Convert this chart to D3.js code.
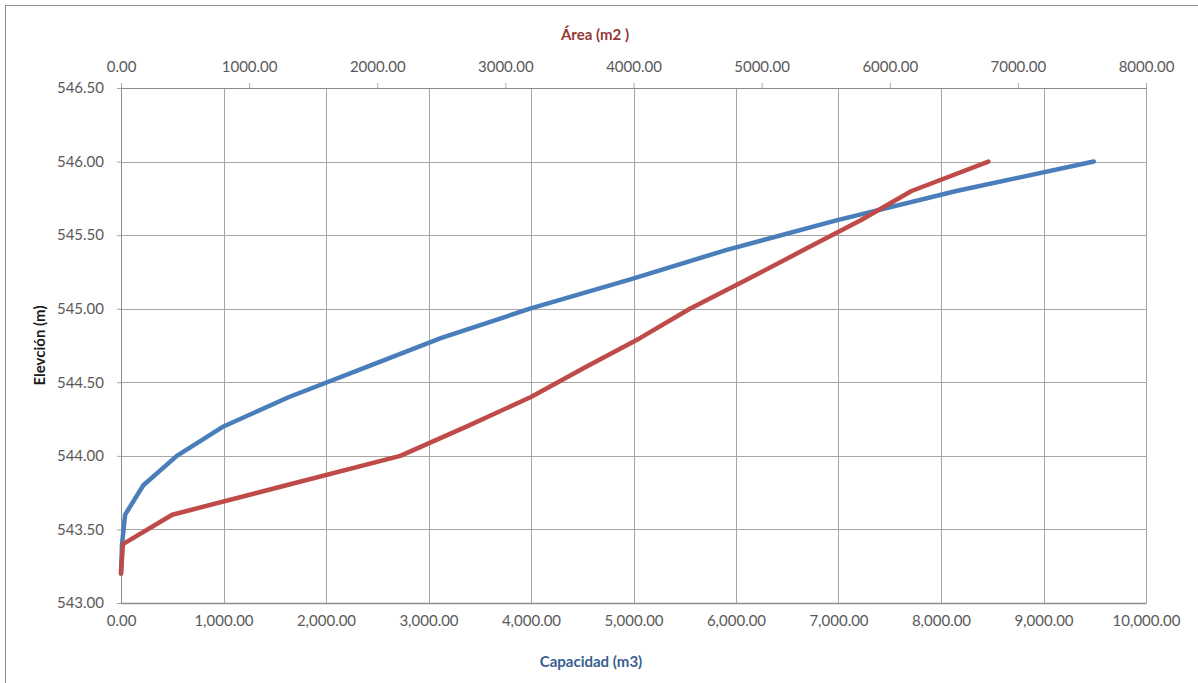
<!DOCTYPE html>
<html>
<head>
<meta charset="utf-8">
<script src="https://cdn.jsdelivr.net/npm/d3@7"></script>
<style>
  html, body { margin: 0; padding: 0; background: #fff; }
  svg { display: block; }
  .tick text { font-family: Lato, "Open Sans", sans-serif; fill: #595959; }
</style>
</head>
<body>
<svg id="chart" width="1198" height="683"></svg>
<script>
// Elevation levels of the reservoir (m)
const elevations = [543.20, 543.40, 543.60, 543.80, 544.00, 544.20, 544.40, 544.60,
                    544.80, 545.00, 545.20, 545.40, 545.60, 545.80, 546.00];
// Stored volume at each level (m3)
const capacidad = [0, 10, 40, 218, 545, 1000, 1640, 2380,
                   3120, 3990, 4970, 5910, 6980, 8150, 9490];
// Flooded surface at each level (m2)
const area = [0, 15, 400, 1290, 2180, 2700, 3200, 3620,
              4050, 4440, 4890, 5330, 5770, 6170, 6770];

const elevTicks = [543.0, 543.5, 544.0, 544.5, 545.0, 545.5, 546.0, 546.5];
const capTicks = [0, 1000, 2000, 3000, 4000, 5000, 6000, 7000, 8000, 9000, 10000];
const areaTicks = [0, 1000, 2000, 3000, 4000, 5000, 6000, 7000, 8000];

const svg = d3.select("#chart");
const W = 1198, H = 683;
const plot = { left: 121, right: 1146, top: 88, bottom: 603 };

// outer chart frame
svg.append("rect")
  .attr("x", 5.5).attr("y", 5.5)
  .attr("width", W + 10).attr("height", H + 10)
  .attr("fill", "#fff").attr("stroke", "#8c8c8c").attr("stroke-width", 1);

const y = d3.scaleLinear().domain([543, 546.5]).range([plot.bottom, plot.top]);
const xCap = d3.scaleLinear().domain([0, 10000]).range([plot.left, plot.right]);
const xArea = d3.scaleLinear().domain([0, 8000]).range([plot.left, plot.right]);

const gridColor = "#a6a6a6";

// horizontal gridlines
svg.append("g")
  .selectAll("line")
  .data(elevTicks)
  .join("line")
  .attr("x1", plot.left).attr("x2", plot.right)
  .attr("y1", d => Math.round(y(d)) + 0.5).attr("y2", d => Math.round(y(d)) + 0.5)
  .attr("stroke", gridColor).attr("stroke-width", 1);

// vertical gridlines from the capacity axis
svg.append("g")
  .selectAll("line")
  .data(capTicks)
  .join("line")
  .attr("x1", d => Math.round(xCap(d)) + 0.5).attr("x2", d => Math.round(xCap(d)) + 0.5)
  .attr("y1", plot.top).attr("y2", plot.bottom)
  .attr("stroke", gridColor).attr("stroke-width", 1);

// left axis: elevation
const yAxis = svg.append("g")
  .attr("transform", `translate(${plot.left},0)`)
  .call(d3.axisLeft(y).tickValues(elevTicks).tickFormat(d3.format(".2f")).tickSize(4).tickPadding(13));
yAxis.select(".domain").attr("stroke", "#8c8c8c");
yAxis.selectAll(".tick line").attr("stroke", gridColor);
yAxis.selectAll(".tick text").attr("font-size", 15);

// bottom axis: capacity
const xAxisB = svg.append("g")
  .attr("transform", `translate(0,${plot.bottom})`)
  .call(d3.axisBottom(xCap).tickValues(capTicks).tickFormat(d3.format(",.2f")).tickSize(0).tickPadding(12));
xAxisB.select(".domain").attr("stroke", "#8c8c8c").attr("stroke-width", 1.5);
xAxisB.selectAll(".tick text").attr("font-size", 15);

// top axis: area
const xAxisT = svg.append("g")
  .attr("transform", `translate(0,${plot.top})`)
  .call(d3.axisTop(xArea).tickValues(areaTicks).tickFormat(d3.format(".2f")).tickSize(5).tickPadding(11));
xAxisT.select(".domain").attr("stroke", "#8c8c8c");
xAxisT.selectAll(".tick line").attr("stroke", gridColor);
xAxisT.selectAll(".tick text").attr("font-size", 15);

// series curves
const capLine = d3.line()
  .x((d, i) => xCap(capacidad[i]))
  .y(d => y(d));
const areaLine = d3.line()
  .x((d, i) => xArea(area[i]))
  .y(d => y(d));

svg.append("path")
  .datum(elevations)
  .attr("d", capLine)
  .attr("fill", "none")
  .attr("stroke", "#4a7ebb")
  .attr("stroke-width", 4.5)
  .attr("stroke-linejoin", "round")
  .attr("stroke-linecap", "round");

svg.append("path")
  .datum(elevations)
  .attr("d", areaLine)
  .attr("fill", "none")
  .attr("stroke", "#be4b48")
  .attr("stroke-width", 4.5)
  .attr("stroke-linejoin", "round")
  .attr("stroke-linecap", "round");

// axis titles
svg.append("text")
  .attr("x", 595).attr("y", 40)
  .attr("text-anchor", "middle")
  .attr("font-family", "Lato, 'Open Sans', sans-serif")
  .attr("font-size", 15).attr("font-weight", "bold")
  .attr("fill", "#953735")
  .text("Área (m2 )");

svg.append("text")
  .attr("x", 591).attr("y", 667)
  .attr("text-anchor", "middle")
  .attr("font-family", "Lato, 'Open Sans', sans-serif")
  .attr("font-size", 15).attr("font-weight", "bold")
  .attr("fill", "#376092")
  .text("Capacidad (m3)");

svg.append("text")
  .attr("transform", `translate(45,${(plot.top + plot.bottom) / 2}) rotate(-90)`)
  .attr("text-anchor", "middle")
  .attr("font-family", "Lato, 'Open Sans', sans-serif")
  .attr("font-size", 15).attr("font-weight", "bold")
  .attr("fill", "#1a1a1a")
  .text("Elevción (m)");
</script>
</body>
</html>
